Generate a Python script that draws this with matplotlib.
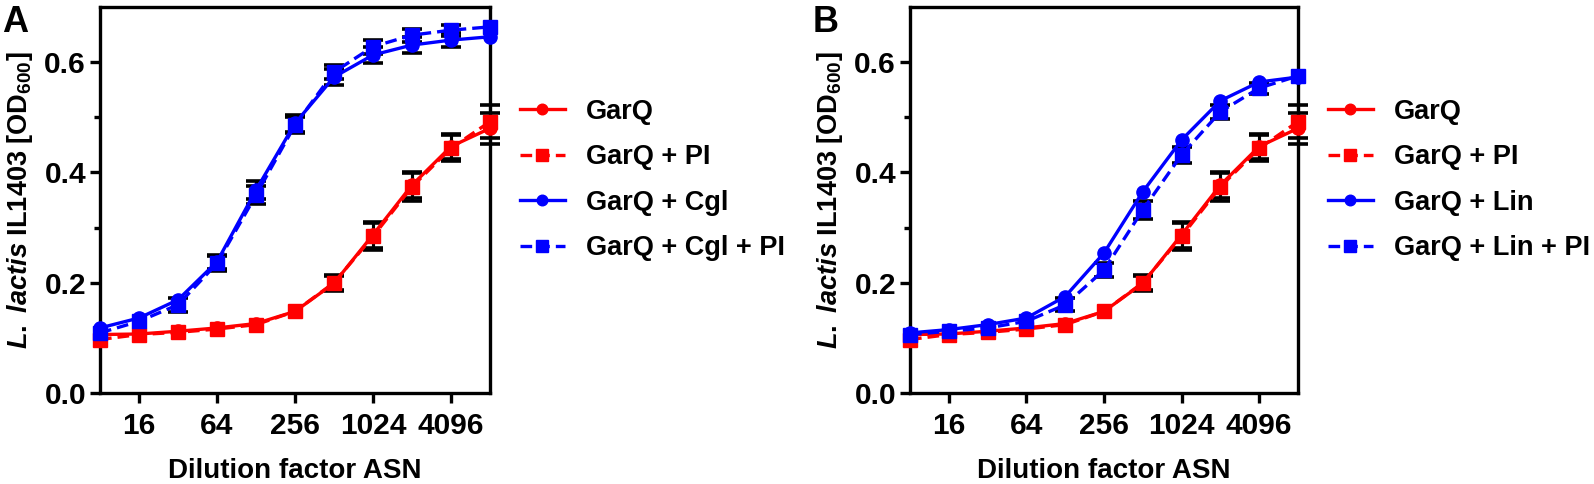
import numpy as np
import matplotlib
matplotlib.use("Agg")
import matplotlib.pyplot as plt
from matplotlib.ticker import FixedLocator, FuncFormatter

plt.rcParams["font.family"] = ["Liberation Sans", "DejaVu Sans"]
plt.rcParams["font.weight"] = "bold"
plt.rcParams["mathtext.fontset"] = "custom"
plt.rcParams["mathtext.rm"] = "Liberation Sans:bold"
plt.rcParams["mathtext.it"] = "Liberation Sans:italic"
plt.rcParams["mathtext.bf"] = "Liberation Sans:bold"

# dilution factors (log2 spaced)
dilution = [8, 16, 32, 64, 128, 256, 512, 1024, 2048, 4096, 8192]

# shared red series (both panels)
garq = [0.106, 0.107, 0.112, 0.118, 0.126, 0.148, 0.199, 0.287, 0.377, 0.447, 0.480]
garq_err = [0, 0, 0, 0, 0, 0, 0.014, 0.024, 0.024, 0.022, 0.028]
garq_pi = [0.097, 0.106, 0.110, 0.116, 0.124, 0.148, 0.200, 0.284, 0.374, 0.444, 0.492]
garq_pi_err = [0, 0, 0, 0, 0, 0, 0.014, 0.024, 0.025, 0.024, 0.030]

# panel A blue series
cgl = [0.118, 0.136, 0.169, 0.238, 0.368, 0.489, 0.573, 0.613, 0.631, 0.640, 0.646]
cgl_err = [0, 0, 0, 0.013, 0.017, 0.015, 0.014, 0.015, 0.014, 0.013, 0]
cgl_pi = [0.109, 0.130, 0.160, 0.235, 0.359, 0.486, 0.582, 0.628, 0.649, 0.658, 0.664]
cgl_pi_err = [0, 0, 0.013, 0.013, 0.017, 0.015, 0.013, 0.013, 0.012, 0.010, 0]

# panel B blue series
lin = [0.109, 0.115, 0.124, 0.136, 0.175, 0.254, 0.365, 0.459, 0.530, 0.564, 0.573]
lin_err = [0, 0, 0, 0, 0, 0, 0, 0, 0, 0, 0]
lin_pi = [0.106, 0.112, 0.118, 0.130, 0.160, 0.223, 0.332, 0.432, 0.510, 0.553, 0.575]
lin_pi_err = [0, 0, 0, 0, 0.012, 0.012, 0.016, 0.014, 0.013, 0.010, 0]

RED = "#ff0000"
BLUE = "#0000ff"
FS = 20
TICK_FS = 21.5
LEG_FS = 19.5


def draw_series(ax, y, err, color, dashed, label):
    x = np.array(dilution, dtype=float)
    y = np.array(y)
    err = np.array(err)
    m = err > 0
    if m.any():
        ax.errorbar(x[m], y[m], yerr=err[m], fmt="none", ecolor="black",
                    elinewidth=2.2, capsize=7, capthick=2.6, zorder=2,
                    clip_on=False)
    ls = (0, (3.5, 1.8)) if dashed else "-"
    ax.plot(x, y, color=color, lw=2.4, ls=ls, marker="s" if dashed else "o",
            ms=10 if dashed else 9.5, mec=color, mfc=color, zorder=3,
            clip_on=False, label=label)


def style_axes(ax, letter):
    ax.set_xscale("log", base=2)
    ax.set_xlim(8, 8192)
    ax.set_ylim(0, 0.7)
    ax.xaxis.set_major_locator(FixedLocator([16, 64, 256, 1024, 4096]))
    ax.xaxis.set_minor_locator(FixedLocator([]))
    ax.xaxis.set_major_formatter(FuncFormatter(lambda v, p: f"{int(v)}"))
    ax.yaxis.set_major_locator(FixedLocator([0.0, 0.2, 0.4, 0.6]))
    ax.yaxis.set_minor_locator(FixedLocator([0.1, 0.3, 0.5]))
    ax.yaxis.set_major_formatter(FuncFormatter(lambda v, p: f"{v:.1f}"))
    for s in ax.spines.values():
        s.set_linewidth(2.4)
    ax.tick_params(axis="both", which="major", length=7, width=2.4,
                   labelsize=TICK_FS)
    ax.tick_params(axis="x", which="major", pad=7)
    ax.tick_params(axis="y", which="major", pad=3)
    ax.tick_params(axis="y", which="minor", length=4.5, width=2.4)
    for lab in ax.get_xticklabels() + ax.get_yticklabels():
        lab.set_fontweight("bold")
    ax.set_xlabel("Dilution factor ASN", fontsize=FS, fontweight="bold",
                  labelpad=13)
    ax.set_ylabel(r"$\mathit{L.\ lactis}$ IL1403 [OD$_{600}$]", fontsize=19.5,
                  fontweight="bold", labelpad=7)
    ax.text(-0.25, 0.96, letter, transform=ax.transAxes, fontsize=26,
            fontweight="bold", va="center", ha="left")


fig = plt.figure(figsize=(15.94, 4.84), dpi=100)
W, H = 1594, 484
axA = fig.add_axes([100 / W, 1 - 393 / H, 390 / W, 386 / H])
axB = fig.add_axes([910 / W, 1 - 393 / H, 388 / W, 386 / H])

draw_series(axA, garq, garq_err, RED, False, "GarQ")
draw_series(axA, garq_pi, garq_pi_err, RED, True, "GarQ + PI")
draw_series(axA, cgl, cgl_err, BLUE, False, "GarQ + Cgl")
draw_series(axA, cgl_pi, cgl_pi_err, BLUE, True, "GarQ + Cgl + PI")

draw_series(axB, garq, garq_err, RED, False, "GarQ")
draw_series(axB, garq_pi, garq_pi_err, RED, True, "GarQ + PI")
draw_series(axB, lin, lin_err, BLUE, False, "GarQ + Lin")
draw_series(axB, lin_pi, lin_pi_err, BLUE, True, "GarQ + Lin + PI")

style_axes(axA, "A")
style_axes(axB, "B")

for ax, x0 in ((axA, 520), (axB, 1328)):
    leg = fig.legend(*ax.get_legend_handles_labels(), loc="center left",
                     bbox_to_anchor=(x0 / W, 1 - 180 / H), frameon=False,
                     borderpad=0, borderaxespad=0, fontsize=LEG_FS,
                     handlelength=1.65, handletextpad=0.8, labelspacing=0.72,
                     markerscale=0.8)
    for t in leg.get_texts():
        t.set_fontweight("bold")

fig.savefig("out.png", dpi=100)
